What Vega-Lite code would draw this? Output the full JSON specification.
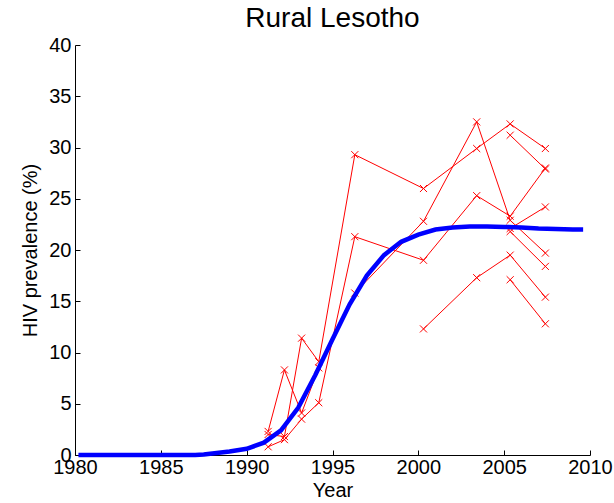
{
  "$schema": "https://vega.github.io/schema/vega-lite/v6.json",
  "autosize": "none",
  "width": 515,
  "height": 410,
  "padding": {"left": 75, "top": 45, "right": 24, "bottom": 48},
  "background": "white",
  "config": {
    "font": "Liberation Sans",
    "view": {"stroke": null},
    "axis": {"grid": false, "domainColor": "#000000", "tickColor": "#000000", "labelColor": "#000000", "titleColor": "#000000", "labelFont": "Liberation Sans", "titleFont": "Liberation Sans", "labelFontSize": 20, "titleFontSize": 20, "titleFontWeight": "normal", "domainWidth": 1, "tickWidth": 1, "labelFlush": false, "labelOverlap": false}
  },
  "title": {"text": "Rural Lesotho", "fontSize": 28, "fontWeight": "normal", "font": "Liberation Sans", "color": "#000000", "offset": 2, "anchor": "middle"},
  "datasets": {
    "fit": [
      {"year": 1980.2, "prev": 0}, {"year": 1981, "prev": 0}, {"year": 1982, "prev": 0}, {"year": 1983, "prev": 0},
      {"year": 1984, "prev": 0}, {"year": 1985, "prev": 0}, {"year": 1986, "prev": 0}, {"year": 1987, "prev": 0},
      {"year": 1987.5, "prev": 0.05}, {"year": 1988, "prev": 0.15}, {"year": 1989, "prev": 0.35}, {"year": 1990, "prev": 0.6},
      {"year": 1991, "prev": 1.2}, {"year": 1992, "prev": 2.4}, {"year": 1993, "prev": 4.6}, {"year": 1994, "prev": 7.8},
      {"year": 1995, "prev": 11.3}, {"year": 1996, "prev": 14.7}, {"year": 1997, "prev": 17.5}, {"year": 1998, "prev": 19.5},
      {"year": 1999, "prev": 20.8}, {"year": 2000, "prev": 21.5}, {"year": 2001, "prev": 22.0}, {"year": 2002, "prev": 22.2},
      {"year": 2003, "prev": 22.3}, {"year": 2004, "prev": 22.3}, {"year": 2005, "prev": 22.25}, {"year": 2006, "prev": 22.2},
      {"year": 2007, "prev": 22.1}, {"year": 2008, "prev": 22.05}, {"year": 2009, "prev": 22.0}, {"year": 2009.6, "prev": 22.0}
    ],
    "sites": [
      {"site": "a", "year": 1991.25, "prev": 2.3}, {"site": "a", "year": 1992.2, "prev": 8.3}, {"site": "a", "year": 1993.2, "prev": 4.1},
      {"site": "a", "year": 1994.2, "prev": 8.5}, {"site": "a", "year": 1996.3, "prev": 15.8}, {"site": "a", "year": 2000.3, "prev": 22.8},
      {"site": "a", "year": 2003.4, "prev": 32.5}, {"site": "a", "year": 2005.35, "prev": 22.9}, {"site": "a", "year": 2007.4, "prev": 19.7},
      {"site": "b", "year": 1991.25, "prev": 2.0}, {"site": "b", "year": 1992.2, "prev": 1.8}, {"site": "b", "year": 1993.2, "prev": 11.4},
      {"site": "b", "year": 1994.2, "prev": 9.1}, {"site": "b", "year": 1996.3, "prev": 29.3}, {"site": "b", "year": 2000.3, "prev": 26.0},
      {"site": "b", "year": 2003.4, "prev": 29.9}, {"site": "b", "year": 2005.35, "prev": 32.3}, {"site": "b", "year": 2007.4, "prev": 29.9},
      {"site": "c", "year": 1991.25, "prev": 0.8}, {"site": "c", "year": 1992.2, "prev": 1.5}, {"site": "c", "year": 1993.2, "prev": 3.5},
      {"site": "c", "year": 1994.2, "prev": 5.1}, {"site": "c", "year": 1996.3, "prev": 21.3}, {"site": "c", "year": 2000.3, "prev": 19.0},
      {"site": "c", "year": 2003.4, "prev": 25.3}, {"site": "c", "year": 2005.35, "prev": 23.3}, {"site": "c", "year": 2007.4, "prev": 28.0},
      {"site": "d", "year": 2000.3, "prev": 12.3}, {"site": "d", "year": 2003.4, "prev": 17.3}, {"site": "d", "year": 2005.35, "prev": 19.5}, {"site": "d", "year": 2007.4, "prev": 15.4},
      {"site": "e", "year": 2005.35, "prev": 31.2}, {"site": "e", "year": 2007.4, "prev": 27.9},
      {"site": "f", "year": 2005.35, "prev": 17.1}, {"site": "f", "year": 2007.4, "prev": 12.8},
      {"site": "g", "year": 2005.35, "prev": 22.1}, {"site": "g", "year": 2007.4, "prev": 24.2},
      {"site": "h", "year": 2005.35, "prev": 21.8}, {"site": "h", "year": 2007.4, "prev": 18.4}
    ]
  },
  "encoding": {
    "x": {"field": "year", "type": "quantitative", "scale": {"domain": [1980, 2010], "nice": false, "zero": false},
      "axis": {"title": "Year", "values": [1980, 1985, 1990, 1995, 2000, 2005, 2010], "format": "d", "tickSize": -5, "labelPadding": 7, "titlePadding": 3}},
    "y": {"field": "prev", "type": "quantitative", "scale": {"domain": [0, 40], "nice": false},
      "axis": {"title": "HIV prevalence (%)", "values": [0, 5, 10, 15, 20, 25, 30, 35, 40], "tickSize": -5, "labelPadding": 9, "titlePadding": 8}}
  },
  "layer": [
    {"data": {"name": "sites"}, "mark": {"type": "line", "color": "#ff0000", "strokeWidth": 1}, "encoding": {"detail": {"field": "site"}}},
    {"data": {"name": "sites"}, "mark": {"type": "point", "shape": "M-1,-1L1,1M-1,1L1,-1", "filled": false, "color": "#ff0000", "strokeWidth": 1, "size": 50, "opacity": 1}},
    {"data": {"name": "fit"}, "mark": {"type": "line", "color": "#0000ff", "strokeWidth": 4.5}}
  ]
}
